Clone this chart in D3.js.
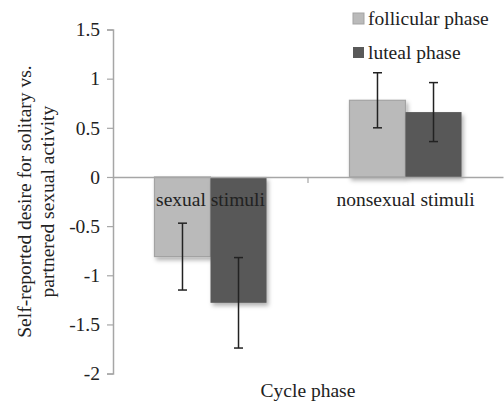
<!DOCTYPE html>
<html lang="en">
<head>
    <meta charset="UTF-8">
    <title>Cycle phase chart</title>
    <style>
        body { margin: 0; background: #fff; }
    </style>
</head>
<body>
    <div id="chart"></div>
    <script src="https://d3js.org/d3.v7.min.js"></script>
    <script>
        // data
        const categories = ["sexual stimuli", "nonsexual stimuli"];
        const series = ["follicular phase", "luteal phase"];
        const follicular = [-0.81, 0.78];
        const luteal = [-1.28, 0.66];
        const follicularErr = [0.34, 0.28];
        const lutealErr = [0.46, 0.30];
        const yTicks = [1.5, 1, 0.5, 0, -0.5, -1, -1.5, -2];
        const colors = ["#bababa", "#595959"];

        const width = 504, height = 404;
        const plotLeft = 113, plotRight = 503, plotTop = 29.5, plotBottom = 373.6;
        const font = "'Liberation Serif'";
        const fontSize = "19.5px";

        const svg = d3.select("#chart")
            .append("svg")
            .attr("width", width)
            .attr("height", height);

        const defs = svg.append("defs");
        defs.append("filter")
            .attr("id", "shadow")
            .attr("x", "-20%").attr("y", "-20%")
            .attr("width", "150%").attr("height", "150%")
            .append("feDropShadow")
            .attr("dx", 2).attr("dy", 3)
            .attr("stdDeviation", 2)
            .attr("flood-color", "#000")
            .attr("flood-opacity", 0.3);

        const y = d3.scaleLinear().domain([-2, 1.5]).range([plotBottom, plotTop]);
        const x0 = d3.scaleBand().domain(categories).range([plotLeft, plotRight]);
        const x1 = d3.scaleBand().domain(series).range([0, x0.bandwidth()]).paddingOuter(0.74);

        const rows = categories.map((c, i) => series.map((s, j) => ({
            cat: c,
            ser: s,
            idx: j,
            v: j === 0 ? follicular[i] : luteal[i],
            e: j === 0 ? follicularErr[i] : lutealErr[i]
        })));

        function textStyle(sel) {
            return sel
                .style("font-family", font)
                .style("font-size", fontSize)
                .style("fill", "#222");
        }

        // y axis
        const yAxis = svg.append("g")
            .attr("transform", `translate(${plotLeft},0)`)
            .call(d3.axisLeft(y).tickValues(yTicks).tickSize(6).tickPadding(7)
                .tickFormat(d => d3.format("")(d).replace("−", "-")));
        yAxis.select(".domain").attr("stroke", "#a6a6a6").attr("stroke-width", 1.5);
        yAxis.selectAll(".tick line").attr("stroke", "#a6a6a6").attr("stroke-width", 1.2);
        yAxis.selectAll(".tick text").call(textStyle);

        // bars
        const group = svg.selectAll(".grp")
            .data(rows)
            .enter()
            .append("g")
            .attr("class", "grp")
            .attr("transform", (d, i) => `translate(${x0(categories[i])},0)`);

        group.selectAll("rect")
            .data(d => d)
            .enter()
            .append("rect")
            .attr("x", d => x1(d.ser))
            .attr("width", x1.bandwidth())
            .attr("y", d => y(Math.max(0, d.v)))
            .attr("height", d => Math.abs(y(d.v) - y(0)))
            .attr("fill", d => colors[d.idx])
            .attr("stroke", d => d.idx === 0 ? "#a3a3a3" : "none")
            .attr("stroke-width", 1.2)
            .attr("filter", "url(#shadow)");

        // x axis along zero
        const xAxis = svg.append("g")
            .attr("transform", `translate(0,${y(0)})`)
            .call(d3.axisBottom(x0).tickSize(0).tickFormat(""));
        xAxis.select(".domain").attr("stroke", "#a6a6a6").attr("stroke-width", 1.5);
        xAxis.append("line")
            .attr("x1", x0(categories[1])).attr("x2", x0(categories[1]))
            .attr("y1", 0).attr("y2", 6)
            .attr("stroke", "#a6a6a6").attr("stroke-width", 1.2);

        // error bars
        const cap = 4.5;
        const err = group.selectAll(".err")
            .data(d => d)
            .enter()
            .append("g")
            .attr("class", "err")
            .attr("stroke", "#222")
            .attr("stroke-width", 1.5);
        err.append("line")
            .attr("x1", d => x1(d.ser) + x1.bandwidth() / 2)
            .attr("x2", d => x1(d.ser) + x1.bandwidth() / 2)
            .attr("y1", d => y(d.v + d.e))
            .attr("y2", d => y(d.v - d.e));
        [1, -1].forEach(s => {
            err.append("line")
                .attr("x1", d => x1(d.ser) + x1.bandwidth() / 2 - cap)
                .attr("x2", d => x1(d.ser) + x1.bandwidth() / 2 + cap)
                .attr("y1", d => y(d.v + s * d.e))
                .attr("y2", d => y(d.v + s * d.e));
        });

        // category labels just below the zero line
        svg.selectAll(".cat")
            .data(categories)
            .enter()
            .append("text")
            .attr("class", "cat")
            .attr("x", d => x0(d) + x0.bandwidth() / 2)
            .attr("y", y(0) + 29)
            .attr("text-anchor", "middle")
            .call(textStyle)
            .text(d => d);

        // axis titles
        svg.append("text")
            .attr("x", (plotLeft + plotRight) / 2)
            .attr("y", 397)
            .attr("text-anchor", "middle")
            .call(textStyle)
            .text("Cycle phase");

        const yt = svg.append("text")
            .attr("transform", `translate(0,${(plotTop + plotBottom) / 2}) rotate(-90)`)
            .attr("text-anchor", "middle")
            .call(textStyle);
        yt.append("tspan").attr("x", 0).attr("y", 31).text("Self-reported desire for solitary vs.");
        yt.append("tspan").attr("x", 0).attr("y", 54).text("partnered sexual activity");

        // legend
        const legend = svg.selectAll(".leg")
            .data(series)
            .enter()
            .append("g")
            .attr("class", "leg")
            .attr("transform", (d, i) => `translate(353,${13 + i * 34})`);
        legend.append("rect")
            .attr("width", 11).attr("height", 11)
            .attr("fill", (d, i) => colors[i])
            .attr("stroke", (d, i) => i === 0 ? "#a3a3a3" : "none");
        legend.append("text")
            .attr("x", 15)
            .attr("y", 12)
            .call(textStyle)
            .text(d => d);
    </script>
</body>
</html>
